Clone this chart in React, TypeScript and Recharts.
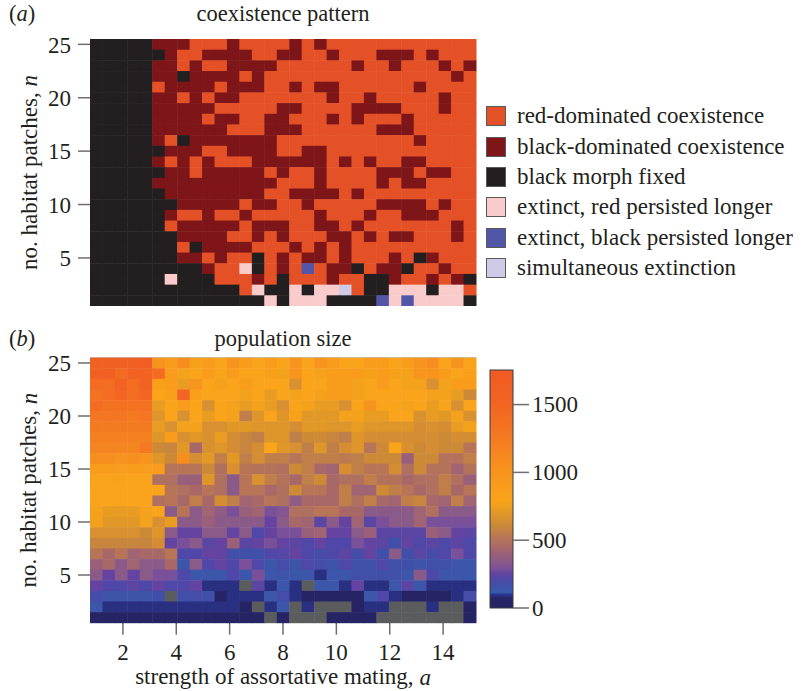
import React from "react";
import { ScatterChart, Scatter, XAxis, YAxis, Legend, ReferenceLine } from "recharts";

// strength of assortative mating (31 columns) and number of patches (25 rows)
const mating = [
  1, 1.467, 1.933, 2.4, 2.867, 3.333, 3.8, 4.267, 4.733, 5.2, 5.667, 6.133, 6.6, 7.067, 7.533, 8,
  8.467, 8.933, 9.4, 9.867, 10.333, 10.8, 11.267, 11.733, 12.2, 12.667, 13.133, 13.6, 14.067, 14.533, 15,
];
const patches = [25, 24, 23, 22, 21, 20, 19, 18, 17, 16, 15, 14, 13, 12, 11, 10, 9, 8, 7, 6, 5, 4, 3, 2, 1];
const nTicks = [5, 10, 15, 20, 25];
const aTicks = [2, 4, 6, 8, 10, 12, 14];
const barTicks = [0, 500, 1000, 1500];
const BAR_MAX = 1755;

// outcome codes: R red-dominated, D black-dominated, K black fixed,
// P extinct/red longer, B extinct/black longer, S simultaneous
const outcomeKeys = ["R", "D", "K", "P", "B", "S"];
const outcomeLabels = [
  "red-dominated coexistence",
  "black-dominated coexistence",
  "black morph fixed",
  "extinct, red persisted longer",
  "extinct, black persisted longer",
  "simultaneous extinction",
];

// one string per row, n = 25 first (columns a = 1 .. 8 | 8.47 .. 15)
const patternRows = [
  "KKKKKDDDRRRDRRRR" + "DRDRRRRRRRRRRRR",
  "KKKKKKDRRDDDDRRD" + "DRRDRRRDDDRDRRR",
  "KKKKKDDRDRRDDDDR" + "RRRRRDRRDRRRDRD",
  "KKKKKDDKDDDDRDRR" + "RRRRRRRRRRRRRDR",
  "KKKKKRDDDDRDDDRR" + "DRDDRRRRRRDRRRR",
  "KKKKKDDRDRDDRRRR" + "RRRDRRDRRRRRDRR",
  "KKKKKDDDDDRRRRRD" + "DRRRRDDDDRRRDRR",
  "KKKKKDDDDRDDRRDD" + "RRRDRDRRRDRRRRR",
  "KKKKKDDDDDDRRRDD" + "DRRRRRRDDDRRRRR",
  "KKKKKDRKDDDDDDDR" + "RRRRRRRRRRDRRRR",
  "KKKKKKDDDRRDDDDR" + "RDDRRRRRRRRRRRR",
  "KKKKKDRDRDRRRDDD" + "DDDRDRDRRDDRRRR",
  "KKKKKKDDRDDDDDRD" + "RRDRRRRDDDRDDRR",
  "KKKKKDDDDDDDDDDR" + "RRDRRRRDRDDRRRR",
  "KKKKKKDDDDDDDDRR" + "DDDDRDRRRRRRRRR",
  "KKKKKKKDDDDDRDDR" + "RDRRRRRDDDDRDRR",
  "KKKKKKDRRDRRDRRR" + "RRDRRRDRRDDDRRR",
  "KKKKKKRDDDDDRDDD" + "RRDDRDRRRRRRRDR",
  "KKKKKKKDDDDRRDRD" + "RRRDDRDRDDRRRDR",
  "KKKKKKKRKDDDDRRR" + "DRDRDRRRRRRRRRR",
  "KKKKKKKDDRDRRKRD" + "RDDRDRRRDRKDRRR",
  "KKKKKKKKKDRRPKRD" + "RBRDDKRDDKRRDRR",
  "KKKKKKPKKKRRRDRK" + "RRRDRRKKDRRDRDK",
  "KKKKKKKKKKKKRPKK" + "PKPPSRKKPPPKPPR",
  "KKKKKKKKKKKKKKPK" + "PPPKKKKBPBPPPPK",
];

// population size, n = 25 first; null = population extinct
const popRows: (number | null)[][] = [
  [1620, 1620, 1620, 1620, 1680, 1000, 900, 1080, 850, 900, 790, 1000, 900, 790, 900, 790, 1000, 790, 1000, 900, 790, 790, 900, 900, 790, 900, 1000, 1080, 790, 1000, 790],
  [1620, 1620, 1420, 1580, 1580, 1420, 900, 770, 790, 900, 790, 900, 790, 790, 850, 770, 1000, 790, 770, 900, 900, 900, 850, 900, 850, 770, 1000, 1000, 900, 790, 850],
  [1420, 1420, 1580, 1420, 1580, 850, 900, 730, 1000, 790, 770, 790, 900, 790, 790, 790, 660, 790, 790, 900, 900, 770, 790, 900, 790, 770, 770, 660, 770, 900, 900],
  [1350, 1420, 1500, 1420, 1500, 790, 850, 1500, 850, 790, 790, 790, 770, 790, 730, 790, 770, 790, 770, 900, 900, 770, 790, 790, 790, 790, 790, 770, 770, 730, 615],
  [1420, 1350, 1350, 1350, 1350, 730, 790, 900, 790, 660, 790, 770, 730, 770, 730, 660, 790, 770, 730, 730, 660, 790, 1000, 790, 790, 770, 790, 730, 790, 660, 790],
  [1300, 1300, 1300, 1250, 1300, 690, 790, 660, 790, 730, 790, 770, 560, 690, 790, 690, 850, 710, 710, 710, 770, 770, 730, 730, 790, 790, 660, 730, 710, 770, 660],
  [1250, 1250, 1250, 1250, 1250, 730, 660, 770, 770, 660, 660, 710, 710, 690, 690, 690, 640, 710, 710, 690, 690, 730, 690, 690, 690, 690, 640, 660, 640, 730, 770],
  [1200, 1200, 1200, 1200, 1200, 690, 900, 660, 710, 660, 730, 640, 590, 560, 690, 690, 560, 615, 615, 590, 560, 690, 640, 640, 640, 640, 640, 640, 615, 640, 640],
  [1150, 1150, 1150, 1150, 1250, 615, 590, 710, 445, 660, 690, 640, 590, 640, 790, 700, 660, 560, 690, 560, 640, 690, 520, 615, 790, 660, 615, 640, 615, 615, 520],
  [1080, 1080, 1000, 1080, 1000, 690, 615, 1080, 640, 710, 560, 710, 560, 640, 560, 560, 520, 560, 560, 560, 540, 560, 615, 615, 615, 400, 615, 615, 500, 500, 560],
  [900, 900, 880, 900, 880, 900, 520, 520, 520, 615, 480, 660, 520, 500, 500, 480, 615, 560, 445, 420, 640, 560, 520, 520, 640, 480, 615, 500, 500, 420, 500],
  [800, 800, 800, 800, 800, 480, 480, 400, 400, 690, 480, 340, 520, 660, 560, 500, 445, 560, 615, 445, 480, 480, 560, 500, 500, 445, 480, 480, 560, 480, 400],
  [790, 790, 790, 790, 790, 790, 520, 480, 445, 520, 480, 340, 520, 520, 445, 480, 615, 520, 520, 445, 560, 420, 420, 615, 560, 520, 445, 480, 560, 445, 520],
  [790, 790, 790, 790, 790, 480, 520, 445, 560, 445, 640, 560, 420, 445, 520, 480, 360, 445, 445, 445, 560, 480, 560, 445, 420, 560, 590, 445, 420, 560, 420],
  [770, 730, 730, 730, 770, 790, 340, 520, 340, 420, 360, 290, 400, 420, 290, 320, 480, 480, 520, 520, 445, 445, 340, 340, 340, 340, 420, 480, 340, 340, 340],
  [770, 710, 710, 710, 770, 660, 730, 340, 340, 400, 340, 340, 340, 340, 255, 340, 445, 420, 235, 340, 255, 420, 235, 290, 340, 340, 420, 290, 290, 290, 290],
  [660, 660, 660, 660, 615, 690, 340, 255, 255, 340, 340, 255, 340, 210, 255, 290, 290, 400, 420, 255, 255, 340, 400, 235, 235, 235, 235, 400, 340, 255, 235],
  [590, 590, 590, 590, 590, 640, 255, 290, 340, 235, 255, 400, 235, 255, 290, 255, 235, 210, 255, 210, 210, 290, 255, 235, 170, 255, 210, 235, 210, 235, 210],
  [520, 445, 520, 420, 445, 445, 520, 210, 210, 255, 255, 170, 170, 170, 210, 220, 255, 210, 185, 210, 235, 185, 255, 170, 340, 170, 235, 185, 210, 290, 210],
  [400, 445, 340, 420, 340, 340, 445, 130, 340, 210, 255, 210, 290, 210, 130, 185, 150, 210, 185, 150, 210, 170, 170, 210, 170, 170, 150, 170, 170, 130, 130],
  [340, 255, 340, 255, 340, 290, 290, 210, 130, 130, 130, 210, 130, 290, 130, 150, 130, 130, 90, 130, 130, 170, 170, 170, 170, 130, 340, 210, 130, 130, 130],
  [255, 210, 210, 235, 210, 255, 210, 210, 255, 90, 90, 90, null, 235, 90, 130, 90, null, 130, 130, 90, 255, 90, 90, 130, 235, 130, 90, 90, 90, 90],
  [185, 150, 150, 150, 150, 170, null, 170, 185, 170, 40, 90, 90, 90, 130, 185, 90, 40, 40, 40, 40, 40, 130, 210, 90, 40, 40, 40, 40, 90, 185],
  [130, 90, 90, 90, 90, 90, 90, 90, 90, 90, 90, 90, 40, null, 90, 130, null, 90, null, null, null, 40, 90, 90, null, null, null, 90, null, null, 40],
  [40, 40, 40, 40, 40, 40, 40, 40, 40, 40, 40, 40, 40, 40, null, 40, null, null, null, 40, 40, 40, 40, null, null, null, null, null, null, null, 40],
];

const SERIF = '"Liberation Serif", "Times New Roman", serif';
const INK = "#231f20";
const TICK_GREY = "#6d6e71";
const FS = 23;
const TITLE_FS = 22.5;

const outcomeColors: Record<string, string> = {
  R: "#e55127",
  D: "#7e1518",
  K: "#231f20",
  P: "#f9cccb",
  B: "#5156a6",
  S: "#cfcbe6",
};
const EXTINCT_GREY = "#5b5c5e";

// colour ramp of the population panel: [value, colour]
const ramp: [number, string][] = [
  [0, "#262262"],
  [75, "#272568"],
  [100, "#2b3592"],
  [115, "#3a5aaa"],
  [170, "#4050a8"],
  [210, "#5048a8"],
  [255, "#6444a0"],
  [290, "#7a509a"],
  [340, "#8a5a88"],
  [400, "#9a607a"],
  [445, "#a86868"],
  [480, "#b07060"],
  [520, "#b87456"],
  [560, "#c07f48"],
  [615, "#cd8a36"],
  [660, "#d99030"],
  [710, "#e29826"],
  [750, "#eea01e"],
  [790, "#f9a41a"],
  [900, "#f99c1c"],
  [1000, "#f7941d"],
  [1080, "#f68d1f"],
  [1250, "#f47a22"],
  [1500, "#f26522"],
  [1755, "#f05a24"],
];

const hex = (c: string) => [1, 3, 5].map((i) => parseInt(c.slice(i, i + 2), 16));
function popColor(v: number | null) {
  if (v == null) return EXTINCT_GREY;
  for (let i = 1; i < ramp.length; i++) {
    const [v1, c1] = ramp[i];
    if (v <= v1) {
      const [v0, c0] = ramp[i - 1];
      const t = (v - v0) / (v1 - v0);
      const a = hex(c0);
      const b = hex(c1);
      const m = a.map((x, k) => Math.round(x + (b[k] - x) * t));
      return `rgb(${m[0]},${m[1]},${m[2]})`;
    }
  }
  return ramp[ramp.length - 1][1];
}

// geometry
const PLOT_LEFT = 90;
const PLOT_W = 386;
const A_TOP = 39;
const A_H = 267;
const B_CHART_TOP = 330;
const B_TOP = 27.7;
const B_H = 265;
const B_CHART_H = 361;
const A_STEP = mating[1] - mating[0];
const X_DOMAIN: [number, number] = [mating[0] - A_STEP / 2, mating[mating.length - 1] + A_STEP / 2];
const Y_DOMAIN: [number, number] = [0.5, patches.length + 0.5];
const CELL_W = (PLOT_W * A_STEP) / (X_DOMAIN[1] - X_DOMAIN[0]);
const CELL_HA = A_H / patches.length;
const CELL_HB = B_H / patches.length;

const patternData = patternRows.flatMap((row, r) =>
  mating.map((a, c) => ({ a, n: patches[r], code: row[c] }))
);
const popData = popRows.flatMap((row, r) => mating.map((a, c) => ({ a, n: patches[r], v: row[c] })));

const cellShape = (h: number, colorOf: (p: any) => string) => (props: any) => {
  const { cx, cy, payload } = props;
  return (
    <rect
      x={cx - CELL_W / 2}
      y={cy - h / 2}
      width={CELL_W + 0.5}
      height={h + 0.5}
      fill={colorOf(payload)}
      stroke="none"
    />
  );
};

const tickStyle = { fill: INK, fontSize: FS, fontFamily: SERIF };
const tickLine = { stroke: TICK_GREY, strokeWidth: 1.5 };

const yLabel = (props: any) => {
  const { viewBox } = props;
  const cy = viewBox.y + viewBox.height / 2;
  return (
    <text
      x={29}
      y={cy}
      transform={`rotate(-90, 29, ${cy})`}
      textAnchor="middle"
      dominantBaseline="central"
      fill={INK}
      fontSize={FS}
      fontFamily={SERIF}
    >
      no. habitat patches, <tspan fontStyle="italic">n</tspan>
    </text>
  );
};

const xLabel = (props: any) => {
  const { viewBox } = props;
  return (
    <text
      x={viewBox.x + viewBox.width / 2}
      y={viewBox.y + 54}
      textAnchor="middle"
      dominantBaseline="central"
      fill={INK}
      fontSize={FS}
      fontFamily={SERIF}
    >
      strength of assortative mating, <tspan fontStyle="italic">a</tspan>
    </text>
  );
};

const OutcomeLegend = () => (
  <div style={{ fontFamily: SERIF, fontSize: FS, color: INK }}>
    {outcomeLabels.map((label, i) => (
      <div key={label} style={{ display: "flex", alignItems: "center", height: 30.4 }}>
        <span
          style={{
            width: 20,
            height: 20,
            background: outcomeColors[outcomeKeys[i]],
            border: "1.5px solid #58595b",
            boxSizing: "border-box",
            marginRight: 11,
            flex: "none",
          }}
        />
        <span style={{ whiteSpace: "nowrap" }}>{label}</span>
      </div>
    ))}
  </div>
);

const BAR_H = 238;
const ColourBar = () => (
  <svg width={120} height={250} style={{ overflow: "visible" }}>
    <defs>
      <linearGradient id="popRamp" x1="0" y1="0" x2="0" y2="1">
        {[...ramp].reverse().map(([v, c]) => (
          <stop key={v} offset={1 - v / BAR_MAX} stopColor={c} />
        ))}
      </linearGradient>
    </defs>
    <rect x={0} y={0} width={23} height={BAR_H} fill="url(#popRamp)" stroke="#3a3a3c" strokeWidth={1} />
    {barTicks.map((t) => {
      const y = BAR_H * (1 - t / BAR_MAX);
      return (
        <g key={t}>
          <line x1={23} x2={39} y1={y} y2={y} stroke={TICK_GREY} strokeWidth={1.5} />
          <text x={42} y={y} dominantBaseline="central" fill={INK} fontSize={FS} fontFamily={SERIF}>
            {t}
          </text>
        </g>
      );
    })}
  </svg>
);

const PanelTag = ({ letter, top }: { letter: string; top: number }) => (
  <div style={{ position: "absolute", left: 9, top, fontFamily: SERIF, fontSize: TITLE_FS, color: INK }}>
    (<i>{letter}</i>)
  </div>
);

const Title = ({ text, top }: { text: string; top: number }) => (
  <div
    style={{
      position: "absolute",
      left: PLOT_LEFT,
      width: PLOT_W,
      top,
      textAlign: "center",
      fontFamily: SERIF,
      fontSize: TITLE_FS,
      color: INK,
    }}
  >
    {text}
  </div>
);

export default function App() {
  return (
    <div style={{ position: "absolute", left: 0, top: 0, width: 805, height: 691, background: "#fff", overflow: "hidden" }}>
      <PanelTag letter="a" top={1} />
      <Title text="coexistence pattern" top={1} />
      <PanelTag letter="b" top={326} />
      <Title text="population size" top={326} />

      <div style={{ position: "absolute", left: 0, top: 0 }}>
        <ScatterChart
          width={805}
          height={A_TOP + A_H}
          margin={{ top: A_TOP, right: 805 - PLOT_LEFT - PLOT_W, bottom: 0, left: 0 }}
        >
          <XAxis type="number" dataKey="a" domain={X_DOMAIN} hide height={0} />
          <YAxis
            type="number"
            dataKey="n"
            domain={Y_DOMAIN}
            ticks={nTicks}
            width={PLOT_LEFT}
            axisLine={false}
            tickLine={tickLine}
            tickSize={12}
            tickMargin={7}
            tick={tickStyle}
            label={yLabel}
          />
          <Scatter
            data={patternData}
            isAnimationActive={false}
            shape={cellShape(CELL_HA, (p) => outcomeColors[p.code])}
          />
          <Legend
            layout="vertical"
            align="center"
            verticalAlign="middle"
            content={() => <OutcomeLegend />}
            wrapperStyle={{ left: 486, top: 101, width: 319, height: 190 }}
          />
        </ScatterChart>
      </div>

      <div style={{ position: "absolute", left: 0, top: B_CHART_TOP }}>
        <ScatterChart
          width={805}
          height={B_CHART_H}
          margin={{ top: B_TOP, right: 805 - PLOT_LEFT - PLOT_W, bottom: 0, left: 0 }}
        >
          <XAxis
            type="number"
            dataKey="a"
            domain={X_DOMAIN}
            ticks={aTicks}
            height={B_CHART_H - B_TOP - B_H}
            axisLine={false}
            tickLine={tickLine}
            tickSize={12}
            tickMargin={9}
            tick={tickStyle}
            label={xLabel}
          />
          <YAxis
            type="number"
            dataKey="n"
            domain={Y_DOMAIN}
            ticks={nTicks}
            width={PLOT_LEFT}
            axisLine={false}
            tickLine={tickLine}
            tickSize={12}
            tickMargin={7}
            tick={tickStyle}
            label={yLabel}
          />
          <Scatter data={popData} isAnimationActive={false} shape={cellShape(CELL_HB, (p) => popColor(p.v))} />
          <ReferenceLine y={Y_DOMAIN[1]} stroke="#b4b4bc" strokeWidth={1} />
          <ReferenceLine
            segment={[
              { x: 1.25, y: 23.6 },
              { x: 1.66, y: 23.6 },
            ]}
            stroke="#ffffff"
            strokeWidth={2}
          />
          <Legend
            layout="vertical"
            align="center"
            verticalAlign="middle"
            content={() => <ColourBar />}
            wrapperStyle={{ left: 490, top: 40, width: 120, height: 250 }}
          />
        </ScatterChart>
      </div>
    </div>
  );
}
